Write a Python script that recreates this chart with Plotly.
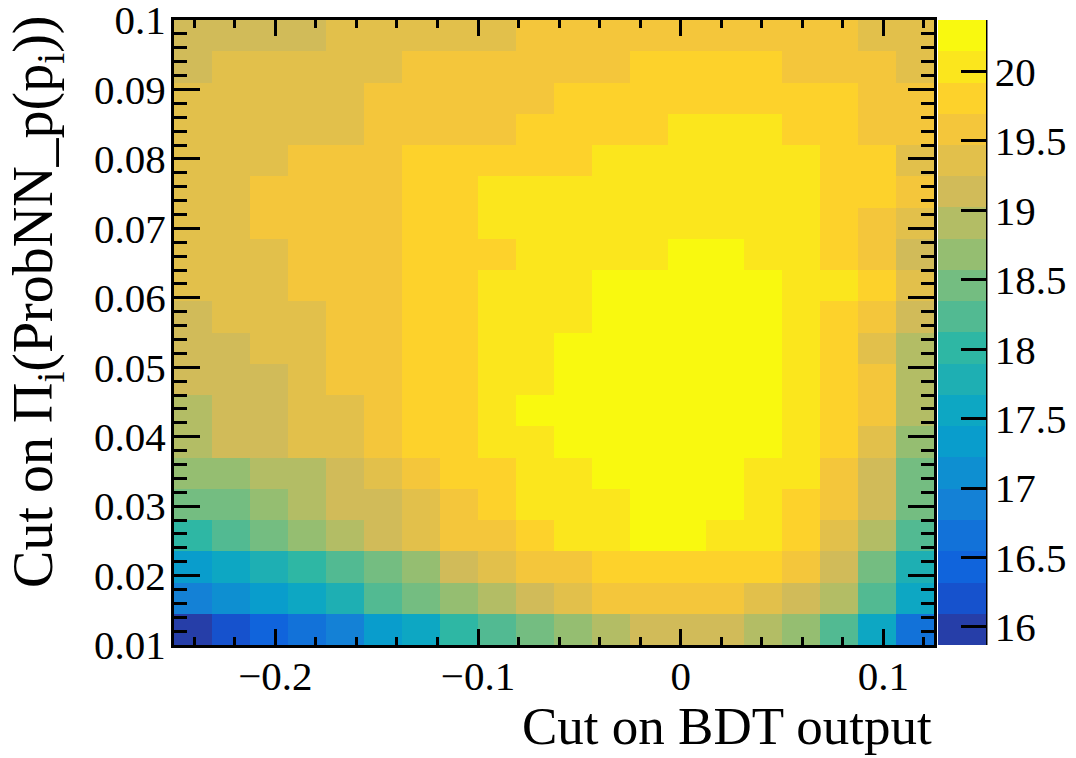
import numpy as np
import plotly.graph_objects as go

# Binning of the two cut variables (histogram edges)
bdt_edges = np.linspace(-0.25, 0.125, 21)
probnn_edges = np.linspace(0.01, 0.10, 21)

# Figure of merit for each (BDT cut, ProbNN cut) pair; rows go from the
# loosest ProbNN cut (0.01) upwards, columns from BDT cut -0.25 upwards.
fom_rows = [
    [15.87, 16.20, 16.43, 16.65, 16.88, 17.33, 17.56, 18.01, 18.23, 18.46, 18.68, 18.91, 19.13, 19.13, 19.13, 18.91, 18.68, 18.23, 17.56, 16.65],
    [16.88, 17.10, 17.33, 17.56, 17.78, 18.23, 18.46, 18.68, 18.91, 19.13, 19.36, 19.58, 19.58, 19.58, 19.58, 19.36, 19.13, 18.91, 18.23, 17.56],
    [17.33, 17.56, 17.78, 18.01, 18.23, 18.46, 18.68, 19.13, 19.36, 19.58, 19.58, 19.81, 19.81, 19.81, 19.81, 19.81, 19.58, 19.13, 18.46, 17.78],
    [18.01, 18.23, 18.46, 18.68, 18.91, 19.13, 19.36, 19.58, 19.58, 19.81, 20.03, 20.03, 20.26, 20.26, 20.03, 20.03, 19.81, 19.36, 18.91, 18.23],
    [18.46, 18.46, 18.68, 18.91, 19.13, 19.13, 19.36, 19.58, 19.81, 20.03, 20.03, 20.03, 20.26, 20.26, 20.26, 20.03, 19.81, 19.58, 19.13, 18.46],
    [18.68, 18.68, 18.91, 18.91, 19.13, 19.36, 19.58, 19.81, 19.81, 20.03, 20.03, 20.26, 20.26, 20.26, 20.26, 20.03, 20.03, 19.58, 19.13, 18.46],
    [18.91, 19.13, 19.13, 19.36, 19.36, 19.58, 19.81, 19.81, 20.03, 20.03, 20.26, 20.26, 20.26, 20.26, 20.26, 20.26, 20.03, 19.81, 19.36, 18.68],
    [18.91, 19.13, 19.13, 19.36, 19.36, 19.58, 19.81, 19.81, 20.03, 20.26, 20.26, 20.26, 20.37, 20.26, 20.26, 20.26, 20.03, 19.81, 19.58, 18.91],
    [19.13, 19.13, 19.13, 19.36, 19.58, 19.58, 19.81, 19.81, 20.03, 20.03, 20.26, 20.26, 20.26, 20.26, 20.26, 20.26, 20.03, 19.81, 19.58, 18.91],
    [19.13, 19.13, 19.36, 19.36, 19.58, 19.58, 19.81, 19.81, 20.03, 20.03, 20.26, 20.26, 20.26, 20.26, 20.26, 20.26, 20.03, 19.81, 19.36, 18.91],
    [19.13, 19.36, 19.36, 19.36, 19.58, 19.58, 19.81, 19.81, 20.03, 20.03, 20.03, 20.26, 20.26, 20.26, 20.26, 20.26, 20.03, 19.81, 19.58, 19.13],
    [19.36, 19.36, 19.36, 19.58, 19.58, 19.58, 19.81, 19.81, 20.03, 20.03, 20.03, 20.26, 20.26, 20.26, 20.26, 20.26, 20.03, 20.03, 19.81, 19.36],
    [19.36, 19.36, 19.36, 19.58, 19.58, 19.58, 19.81, 19.81, 19.81, 20.03, 20.03, 20.03, 20.03, 20.26, 20.26, 20.03, 20.03, 19.81, 19.58, 19.13],
    [19.36, 19.36, 19.58, 19.58, 19.58, 19.58, 19.81, 19.81, 20.03, 20.03, 20.03, 20.03, 20.03, 20.03, 20.03, 20.03, 20.03, 19.81, 19.58, 19.36],
    [19.36, 19.36, 19.58, 19.58, 19.58, 19.58, 19.81, 19.81, 20.03, 20.03, 20.03, 20.03, 20.03, 20.03, 20.03, 20.03, 20.03, 19.81, 19.81, 19.58],
    [19.36, 19.36, 19.36, 19.58, 19.58, 19.58, 19.81, 19.81, 19.81, 19.81, 19.81, 20.03, 20.03, 20.03, 20.03, 20.03, 20.03, 19.81, 19.81, 19.36],
    [19.36, 19.36, 19.36, 19.36, 19.36, 19.58, 19.58, 19.58, 19.58, 19.81, 19.81, 19.81, 19.81, 20.03, 20.03, 20.03, 19.81, 19.81, 19.58, 19.58],
    [19.36, 19.36, 19.36, 19.36, 19.36, 19.58, 19.58, 19.58, 19.58, 19.58, 19.81, 19.81, 19.81, 19.81, 19.81, 19.81, 19.81, 19.81, 19.58, 19.58],
    [19.13, 19.36, 19.36, 19.36, 19.36, 19.36, 19.58, 19.58, 19.58, 19.58, 19.58, 19.58, 19.81, 19.81, 19.81, 19.81, 19.58, 19.58, 19.58, 19.36],
    [19.13, 19.13, 19.13, 19.13, 19.36, 19.36, 19.36, 19.36, 19.36, 19.58, 19.58, 19.58, 19.58, 19.58, 19.58, 19.58, 19.58, 19.58, 19.36, 19.36],
]

colorbar_ticks = [16, 16.5, 17, 17.5, 18, 18.5, 19, 19.5, 20]
x_ticks = [-0.2, -0.1, 0, 0.1]
y_ticks = [0.01, 0.02, 0.03, 0.04, 0.05, 0.06, 0.07, 0.08, 0.09, 0.1]

z = np.array(fom_rows)
zmin, zmax = z.min(), z.max()

# "Bird" palette, 255-colour gradient built the same way as ROOT does
stops = [0.0, 0.125, 0.25, 0.375, 0.5, 0.625, 0.75, 0.875, 1.0]
red = [0.2082, 0.0592, 0.0780, 0.0232, 0.1802, 0.5301, 0.8186, 0.9956, 0.9764]
green = [0.1664, 0.3599, 0.5041, 0.6419, 0.7178, 0.7492, 0.7328, 0.7862, 0.9832]
blue = [0.5293, 0.8684, 0.8385, 0.7914, 0.6425, 0.4662, 0.3499, 0.1968, 0.0539]
NCOL = 255
palette = []
for g in range(1, len(stops)):
    nseg = int(np.floor(NCOL * stops[g]) - np.floor(NCOL * stops[g - 1]))
    for c in range(nseg):
        f = c / nseg
        palette.append(tuple(
            int(round(255 * (ch[g - 1] + f * (ch[g] - ch[g - 1]))))
            for ch in (red, green, blue)))

# 20 discrete contour levels between the minimum and the maximum
NLEV = 20
colorscale = []
for i in range(NLEV):
    r, g_, b = palette[int((i + 0.99) * NCOL / NLEV)]
    col = f"rgb({r},{g_},{b})"
    colorscale.append([i / NLEV, col])
    colorscale.append([(i + 1) / NLEV, col])

FONT = "Liberation Serif"
TICK_SIZE = 41
XTITLE_SIZE = 53
YTITLE_SIZE = 56
EPS = 1e-9

fig = go.Figure(go.Heatmap(
    x=bdt_edges,
    y=probnn_edges,
    z=z,
    zmin=zmin,
    zmax=zmax,
    colorscale=colorscale,
    zsmooth=False,
    colorbar=dict(
        x=1.005, xanchor="left", xpad=0,
        y=0.5, yanchor="middle", ypad=0,
        len=1.0, lenmode="fraction",
        thickness=48, thicknessmode="pixels",
        outlinewidth=0,
        ticks="inside", ticklen=25, tickwidth=3, tickcolor="black",
        tickvals=colorbar_ticks,
        ticktext=[f"{v:g}" for v in colorbar_ticks],
        tickfont=dict(family=FONT, size=TICK_SIZE, color="black"),
    ),
))

fig.update_xaxes(
    range=[bdt_edges[0] - EPS, bdt_edges[-1] + EPS],
    tickvals=x_ticks,
    ticktext=["\u22120.2", "\u22120.1", "0", "0.1"],
    ticks="inside", ticklen=16, tickwidth=3, tickcolor="black",
    minor=dict(dtick=0.02, tick0=0, ticks="inside", ticklen=8,
               tickwidth=3, tickcolor="black"),
    showline=True, linewidth=3, linecolor="black", mirror="ticks",
    showgrid=False, zeroline=False,
    tickfont=dict(family=FONT, size=TICK_SIZE, color="black"),
    ticklabelstandoff=-7,
    ticklabeloverflow="allow",
)
fig.update_yaxes(
    range=[probnn_edges[0] - EPS, probnn_edges[-1] + EPS],
    tickvals=y_ticks,
    ticktext=[f"{v:g}" for v in y_ticks],
    ticks="inside", ticklen=26, tickwidth=3, tickcolor="black",
    minor=dict(dtick=0.002, tick0=0, ticks="inside", ticklen=13,
               tickwidth=3, tickcolor="black"),
    showline=True, linewidth=3, linecolor="black", mirror="ticks",
    showgrid=False, zeroline=False,
    tickfont=dict(family=FONT, size=TICK_SIZE, color="black"),
    ticklabelstandoff=-3,
    ticklabeloverflow="allow",
)

# palette axis line on the right side of the colour bar
fig.add_shape(type="line", xref="paper", yref="paper",
              x0=1.0684, x1=1.0684, y0=0, y1=1,
              line=dict(color="black", width=3))

fig.add_annotation(
    text="Cut on BDT output", xref="paper", yref="paper",
    x=1.0, y=-0.13, xanchor="right", yanchor="middle", showarrow=False,
    font=dict(family=FONT, size=XTITLE_SIZE, color="black"),
)
fig.add_annotation(
    text="Cut on \u03a0<sub>i</sub>(ProbNN_p(p<sub>i</sub>))",
    xref="paper", yref="paper",
    x=-0.18, y=1.01, xanchor="center", yanchor="top", showarrow=False,
    textangle=-90,
    font=dict(family=FONT, size=YTITLE_SIZE, color="black"),
)

fig.update_layout(
    width=1076, height=758,
    margin=dict(l=174, r=142, t=20, b=113, autoexpand=False),
    paper_bgcolor="white", plot_bgcolor="white",
    showlegend=False,
)

fig.write_html("out.html")
